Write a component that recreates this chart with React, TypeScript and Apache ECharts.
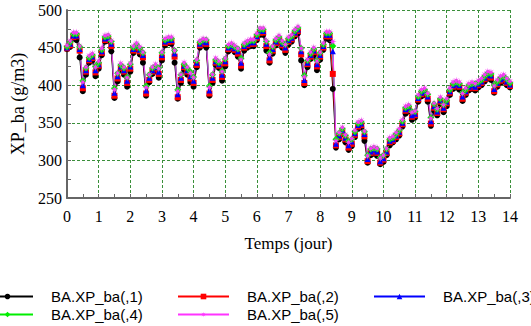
import React, { useEffect, useRef } from "react";
import * as echarts from "echarts";

const TIME = [
  0, 0.1, 0.2, 0.3, 0.4, 0.5, 0.6, 0.7, 0.8, 0.9,
  1, 1.1, 1.2, 1.3, 1.4, 1.5, 1.6, 1.7, 1.8, 1.9,
  2, 2.1, 2.2, 2.3, 2.4, 2.5, 2.6, 2.7, 2.8, 2.9,
  3, 3.1, 3.2, 3.3, 3.4, 3.5, 3.6, 3.7, 3.8, 3.9,
  4, 4.1, 4.2, 4.3, 4.4, 4.5, 4.6, 4.7, 4.8, 4.9,
  5, 5.1, 5.2, 5.3, 5.4, 5.5, 5.6, 5.7, 5.8, 5.9,
  6, 6.1, 6.2, 6.3, 6.4, 6.5, 6.6, 6.7, 6.8, 6.9,
  7, 7.1, 7.2, 7.3, 7.4, 7.5, 7.6, 7.7, 7.8, 7.9,
  8, 8.1, 8.2, 8.3, 8.4, 8.5, 8.6, 8.7, 8.8, 8.9,
  9, 9.1, 9.2, 9.3, 9.4, 9.5, 9.6, 9.7, 9.8, 9.9,
  10, 10.1, 10.2, 10.3, 10.4, 10.5, 10.6, 10.7, 10.8, 10.9,
  11, 11.1, 11.2, 11.3, 11.4, 11.5, 11.6, 11.7, 11.8, 11.9,
  12, 12.1, 12.2, 12.3, 12.4, 12.5, 12.6, 12.7, 12.8, 12.9,
  13, 13.1, 13.2, 13.3, 13.4, 13.5, 13.6, 13.7, 13.8, 13.9,
  14,
];

const S1 = [
  448, 451, 462, 460, 437, 392, 414, 430, 433, 412,
  422, 440, 458, 459, 445, 383, 405, 420, 414, 398,
  418, 443, 448, 441, 430, 386, 404, 415, 419, 410,
  433, 453, 456, 455, 430, 382, 403, 421, 414, 404,
  398, 424, 450, 454, 450, 386, 403, 427, 423, 406,
  425, 445, 448, 444, 438, 422, 446, 450, 452, 452,
  460, 467, 467, 446, 430, 442, 453, 457, 450, 443,
  454, 458, 465, 469, 433, 400, 424, 435, 440, 420,
  434, 447, 462, 460, 395, 317, 328, 335, 324, 314,
  319, 331, 342, 344, 326, 297, 307, 309, 306, 295,
  298, 307, 320, 324, 328, 333, 345, 362, 365, 354,
  357, 378, 385, 387, 378, 346, 366, 360, 375, 364,
  372, 387, 395, 397, 394, 379, 387, 393, 395, 393,
  397, 400, 405, 409, 407, 390, 398, 403, 405, 400,
  397,
];

const S2 = [
  449, 453, 464, 465, 446, 396, 418, 433, 436, 417,
  426, 443, 460, 462, 452, 386, 409, 423, 418, 403,
  422, 446, 450, 445, 437, 389, 407, 418, 422, 415,
  437, 456, 458, 458, 438, 384, 407, 424, 418, 409,
  403, 427, 453, 456, 455, 389, 407, 430, 426, 411,
  429, 448, 450, 447, 442, 426, 450, 453, 455, 455,
  463, 470, 470, 452, 433, 446, 456, 460, 453, 447,
  458, 461, 468, 472, 441, 403, 428, 438, 444, 425,
  438, 450, 465, 465, 415, 320, 331, 338, 328, 317,
  322, 334, 345, 347, 332, 299, 310, 312, 310, 297,
  301, 310, 324, 326, 331, 336, 348, 366, 368, 358,
  360, 381, 388, 390, 382, 349, 370, 363, 378, 368,
  376, 390, 398, 400, 398, 382, 390, 396, 398, 396,
  400, 403, 408, 412, 410, 392, 401, 406, 408, 403,
  399,
];

const S3 = [
  450, 455, 466, 466, 448, 400, 420, 435, 438, 420,
  428, 445, 462, 463, 455, 390, 412, 425, 420, 406,
  425, 448, 452, 447, 440, 393, 410, 420, 424, 418,
  440, 458, 460, 460, 442, 388, 410, 426, 420, 412,
  406, 430, 455, 458, 457, 393, 410, 432, 428, 414,
  432, 450, 452, 449, 445, 430, 452, 455, 457, 457,
  465, 472, 472, 455, 437, 448, 458, 462, 455, 450,
  460, 463, 470, 474, 445, 407, 430, 440, 446, 428,
  440, 452, 467, 467, 445, 322, 333, 340, 330, 320,
  325, 336, 347, 349, 335, 302, 312, 314, 312, 299,
  303, 312, 326, 328, 333, 338, 350, 368, 370, 360,
  362, 383, 390, 392, 385, 352, 372, 365, 380, 370,
  378, 392, 400, 402, 400, 385, 392, 398, 400, 398,
  402, 405, 410, 414, 413, 395, 403, 408, 410, 405,
  401,
];

const S4 = [
  451, 457, 468, 468, 451, 406, 423, 437, 440, 425,
  430, 447, 464, 465, 458, 396, 416, 427, 423, 411,
  428, 450, 454, 449, 443, 399, 414, 423, 426, 423,
  443, 460, 462, 462, 446, 394, 414, 428, 423, 418,
  411, 433, 457, 460, 460, 399, 414, 434, 430, 419,
  435, 452, 454, 451, 448, 436, 454, 457, 459, 459,
  467, 474, 474, 458, 443, 451, 460, 464, 457, 454,
  462, 465, 472, 476, 449, 413, 433, 442, 448, 433,
  443, 454, 469, 469, 452, 328, 336, 342, 333, 326,
  328, 338, 349, 351, 338, 307, 315, 316, 315, 304,
  307, 315, 328, 330, 335, 340, 352, 370, 372, 365,
  365, 385, 392, 394, 388, 357, 375, 368, 382, 374,
  380, 394, 402, 404, 402, 390, 394, 400, 402, 402,
  404, 407, 412, 416, 415, 400, 405, 410, 412, 408,
  403,
];

const S5 = [
  453, 459, 470, 470, 452, 404, 424, 439, 442, 424,
  432, 449, 466, 467, 459, 394, 416, 429, 424, 410,
  429, 452, 456, 451, 444, 397, 414, 424, 428, 422,
  444, 462, 464, 464, 446, 392, 414, 430, 424, 416,
  410, 434, 459, 462, 461, 397, 414, 436, 432, 418,
  436, 454, 456, 453, 449, 434, 456, 459, 461, 461,
  469, 476, 476, 459, 441, 452, 462, 466, 459, 454,
  464, 467, 474, 478, 449, 411, 434, 444, 450, 432,
  444, 456, 471, 471, 458, 326, 337, 344, 334, 324,
  329, 340, 351, 353, 339, 306, 316, 318, 316, 303,
  307, 316, 330, 332, 337, 342, 354, 372, 374, 364,
  366, 387, 394, 396, 389, 356, 376, 369, 384, 374,
  382, 396, 404, 406, 404, 389, 396, 402, 404, 402,
  406, 409, 414, 418, 417, 399, 407, 412, 414, 409,
  405,
];

const SERIES_NAMES = ["BA.XP_ba(,1)", "BA.XP_ba(,2)", "BA.XP_ba(,3)", "BA.XP_ba(,4)", "BA.XP_ba(,5)"];
const SERIES_VALUES = [S1, S2, S3, S4, S5];
const X_TITLE = "Temps (jour)";
const Y_TITLE = "XP_ba (g/m3)";

const COLORS = ["#000000", "#ff0000", "#0000ff", "#00ee00", "#ff33ff"];
const STAR =
  "path://M5,0 L5.6,3.6 L8.5,1.5 L6.4,4.4 L10,5 L6.4,5.6 L8.5,8.5 L5.6,6.4 L5,10 L4.4,6.4 L1.5,8.5 L3.6,5.6 L0,5 L3.6,4.4 L1.5,1.5 L4.4,3.6 Z";
const SYMBOLS = ["circle", "rect", "triangle", "diamond", STAR];
const SIZES = [6, 6, 6, 7, 8];

const LEGEND_POS = [
  { left: -19, top: 289 },
  { left: 177, top: 289 },
  { left: 373, top: 289 },
  { left: -19, top: 307 },
  { left: 177, top: 307 },
];

export default function App() {
  const ref = useRef<HTMLDivElement>(null);

  useEffect(() => {
    if (!ref.current) return;
    const chart = echarts.init(ref.current, null, { renderer: "svg" });
    const gridColor = "#3a8f3a";
    const serif = "'Liberation Serif', 'Times New Roman', serif";
    const option: any = {
      animation: false,
      backgroundColor: "#ffffff",
      grid: { left: 67, right: 21, top: 10, bottom: 128, containLabel: false },
      xAxis: {
        type: "value",
        min: 0,
        max: 14,
        interval: 1,
        name: X_TITLE,
        nameLocation: "middle",
        nameGap: 37,
        nameTextStyle: { fontFamily: serif, fontSize: 17, color: "#000" },
        axisLine: { show: true, onZero: false, lineStyle: { color: "#666", width: 2 } },
        axisTick: { show: true, inside: true, length: 4, lineStyle: { color: "#666" } },
        minorTick: { show: true, splitNumber: 2, length: 4, lineStyle: { color: "#666" } },
        axisLabel: { fontFamily: serif, fontSize: 16, color: "#000", margin: 10 },
        splitLine: { show: true, lineStyle: { color: gridColor, type: [3, 2], width: 1 } },
      },
      yAxis: {
        type: "value",
        min: 250,
        max: 500,
        interval: 50,
        name: Y_TITLE,
        nameLocation: "middle",
        nameGap: 40,
        nameTextStyle: { fontFamily: serif, fontSize: 18, color: "#000" },
        axisLine: { show: true, onZero: false, lineStyle: { color: "#666", width: 2 } },
        axisTick: { show: true, inside: true, length: 4, lineStyle: { color: "#666" } },
        minorTick: { show: true, splitNumber: 2, length: 4, lineStyle: { color: "#666" } },
        axisLabel: { fontFamily: serif, fontSize: 16, color: "#000", margin: 5 },
        splitLine: { show: true, lineStyle: { color: gridColor, type: [3, 2], width: 1 } },
      },
      legend: SERIES_NAMES.map((name, i) => ({
        data: [name],
        left: LEGEND_POS[i].left,
        top: LEGEND_POS[i].top,
        padding: 0,
        itemWidth: 51,
        itemHeight: 7,
        selectedMode: false,
        textStyle: {
          fontFamily: "'Liberation Sans', Arial, sans-serif",
          fontSize: 15,
          color: "#000",
          padding: [0, 0, 0, 13],
        },
      })),
      series: SERIES_NAMES.map((name, i) => ({
        name,
        type: "line",
        data: TIME.map((t, k) => [t, SERIES_VALUES[i][k]]),
        symbol: SYMBOLS[i],
        symbolSize: SIZES[i],
        showSymbol: true,
        showAllSymbol: true,
        color: COLORS[i],
        lineStyle: { color: COLORS[i], width: 1 },
        itemStyle: { color: COLORS[i] },
      })),
    };
    chart.setOption(option);
    return () => chart.dispose();
  }, []);

  return <div ref={ref} style={{ width: 531, height: 326, position: "absolute", left: 0, top: 0 }} />;
}
